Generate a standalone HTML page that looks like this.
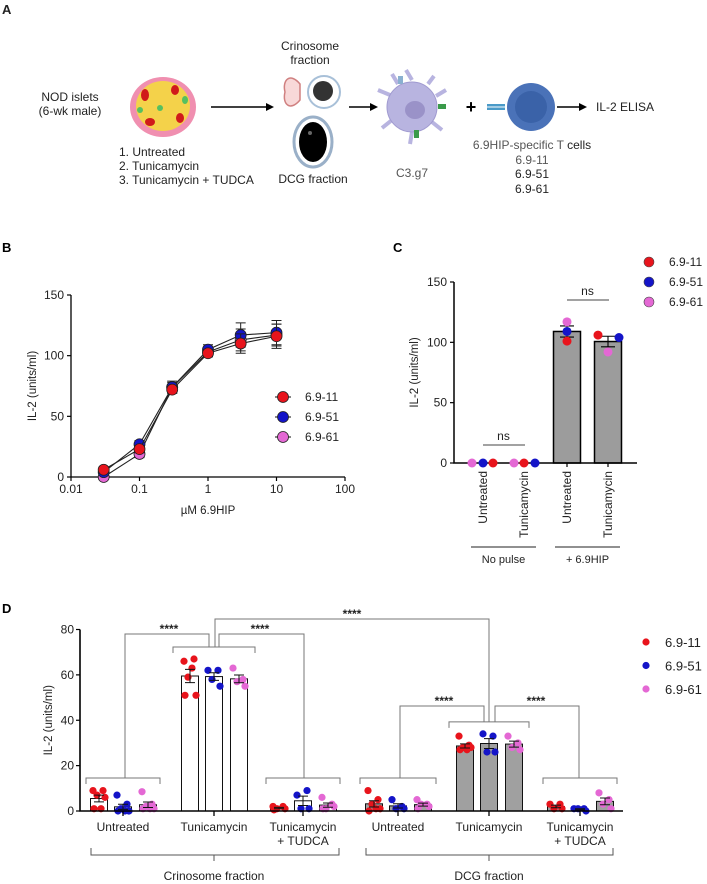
<!DOCTYPE html>
<html><head><meta charset="utf-8"><style>
html,body{margin:0;padding:0;background:#fff}
svg{display:block;font-family:"Liberation Sans",Arial,sans-serif}
</style></head><body>
<svg id="fig" width="707" height="884" viewBox="0 0 707 884" xmlns="http://www.w3.org/2000/svg">
<!-- Panel A -->
<g id="panelA" font-size="12" fill="#222">
  <text x="2" y="14" font-weight="bold" font-size="13">A</text>
  <text x="70" y="101" text-anchor="middle">NOD islets</text>
  <text x="70" y="115" text-anchor="middle">(6-wk male)</text>
  <g>
    <ellipse cx="163" cy="107" rx="33" ry="30" fill="#f08fb0"/>
    <ellipse cx="163" cy="106" rx="27" ry="25" fill="#f4d24a"/>
    <ellipse cx="145" cy="95" rx="4" ry="6" fill="#d01a1a"/>
    <ellipse cx="175" cy="90" rx="4" ry="5" fill="#d01a1a"/>
    <ellipse cx="150" cy="122" rx="5" ry="4" fill="#d01a1a"/>
    <ellipse cx="180" cy="118" rx="4" ry="5" fill="#d01a1a"/>
    <ellipse cx="160" cy="108" rx="3" ry="3" fill="#55c060"/>
    <ellipse cx="185" cy="100" rx="3" ry="4" fill="#55c060"/>
    <ellipse cx="140" cy="110" rx="3" ry="3" fill="#55c060"/>
  </g>
  <text x="119" y="156">1. Untreated</text>
  <text x="119" y="170">2. Tunicamycin</text>
  <text x="119" y="184">3. Tunicamycin + TUDCA</text>
  <g><line x1="211" y1="107" x2="270" y2="107" stroke="#000" stroke-width="1.5"/><path d="M274 107 L266 103 L266 111Z" fill="#000"/></g>
  <text x="310" y="50" text-anchor="middle">Crinosome</text>
  <text x="310" y="64" text-anchor="middle">fraction</text>
  <g>
    <path d="M300 84 C290 72 282 80 285 92 C282 104 290 112 300 100 Z" fill="#f8d8d8" stroke="#d08080" stroke-width="1.5"/>
    <circle cx="324" cy="92" r="16" fill="#fff" stroke="#a8c0d8" stroke-width="2"/>
    <circle cx="323" cy="91" r="10" fill="#333"/>
  </g>
  <g>
    <ellipse cx="313" cy="142" rx="19" ry="25" fill="#fff" stroke="#9ab0c8" stroke-width="3"/>
    <ellipse cx="313" cy="142" rx="14" ry="20" fill="#000"/>
    <ellipse cx="310" cy="133" rx="2" ry="2" fill="#666"/>
  </g>
  <text x="313" y="183" text-anchor="middle">DCG fraction</text>
  <g><line x1="349" y1="107" x2="374" y2="107" stroke="#000" stroke-width="1.5"/><path d="M378 107 L370 103 L370 111Z" fill="#000"/></g>
  <g fill="#b8b4e0" stroke="#a09ad0">
    <path d="M412 80 L406 70 M390 95 L378 90 M392 120 L382 128 M412 132 L410 144 M432 122 L442 130 M436 96 L446 90 M398 84 L392 74 M428 84 L434 76" stroke="#b8b4e0" stroke-width="4"/>
    <circle cx="412" cy="107" r="25"/>
    <ellipse cx="415" cy="110" rx="10" ry="9" fill="#9a92c8" stroke="none"/>
    <rect x="398" y="76" width="5" height="8" fill="#8ab0d0" stroke="none"/>
    <rect x="438" y="104" width="8" height="5" fill="#3a9a4a" stroke="none"/>
    <rect x="414" y="130" width="5" height="8" fill="#3a9a4a" stroke="none"/>
  </g>
  <text x="412" y="177" text-anchor="middle" fill="#555">C3.g7</text>
  <text x="471" y="113" text-anchor="middle" font-size="18" font-weight="bold" fill="#000">+</text>
  <g>
    <rect x="487" y="104" width="18" height="6" fill="#4a9ac8"/>
    <line x1="487" y1="107" x2="508" y2="107" stroke="#fff" stroke-width="1"/>
    <circle cx="531" cy="107" r="24" fill="#4a72b8"/>
    <circle cx="531" cy="107" r="16" fill="#3a62a8"/>
  </g>
  <g><line x1="557" y1="107" x2="583" y2="107" stroke="#000" stroke-width="1.5"/><path d="M587 107 L579 103 L579 111Z" fill="#000"/></g>
  <text x="596" y="111">IL-2 ELISA</text>
  <text x="532" y="149" text-anchor="middle" fill="#555">6.9HIP-specific T <tspan fill="#222">cells</tspan></text>
  <text x="532" y="164" text-anchor="middle" fill="#555">6.9-11</text>
  <text x="532" y="178" text-anchor="middle">6.9-51</text>
  <text x="532" y="193" text-anchor="middle">6.9-61</text>
</g>
<text x="2" y="252" font-weight="bold" font-size="13">B</text>
<text x="393" y="252" font-weight="bold" font-size="13">C</text>
<text x="2" y="613" font-weight="bold" font-size="13">D</text>
<g id="panelB"></g>
<g id="panelC"></g>
<g id="panelD"></g>
</svg>
<script>
// ---------- Panel B data ----------
const bDoses = [0.03, 0.1, 0.3, 1, 3, 10];
const bXTicks = [0.01, 0.1, 1, 10, 100];
const bXTickLabels = ["0.01", "0.1", "1", "10", "100"];
const bYTicks = [0, 50, 100, 150];
const b611 = [6, 23, 72, 102, 110, 116];
const b651 = [4, 27, 74, 105, 117, 119];
const b661 = [0, 19, 74, 103, 113, 117];
const b611Err = [2, 3, 3, 3, 8, 10];
const b651Err = [2, 3, 4, 4, 10, 10];
const b661Err = [1, 3, 5, 3, 9, 9];
const bSeriesNames = ["6.9-11", "6.9-51", "6.9-61"];
// ---------- Panel C data ----------
const cCategories = ["Untreated", "Tunicamycin", "Untreated", "Tunicamycin"];
const cGroupLabels = ["No pulse", "+ 6.9HIP"];
const cYTicks = [0, 50, 100, 150];
const c611 = [0, 0, 101, 106];
const c651 = [0, 0, 109, 104];
const c661 = [0, 0, 117, 92];
// ---------- Panel D data ----------
const dCategories = ["Untreated", "Tunicamycin", "Tunicamycin|+ TUDCA", "Untreated", "Tunicamycin", "Tunicamycin|+ TUDCA"];
const dFractions = ["Crinosome fraction", "DCG fraction"];
const dYTicks = [0, 20, 40, 60, 80];
const d611 = [[9,9,7,6,1,1],[66,67,59,51,51,63],[2,2,1,1,0.5],[9,5,3,1,0,1],[33,29,28,28,27,27],[3,3,1,1]];
const d651 = [[7,3,1,0,0,0],[62,62,58,55],[7,9,1,1],[5,2,1,1],[34,33,26,26],[1,1,1,0]];
const d661 = [[8.5,3,2,1,1,1],[63,58,57,55],[6,3,1,2,1],[5,3,3,2,1],[33,30,28,27],[8,5,3,1]];

const NS = "http://www.w3.org/2000/svg";
const COL = ["#e8141c", "#1414c8", "#e468d4"];
function mk(parent, tag, attrs, text) {
  const e = document.createElementNS(NS, tag);
  for (const k in attrs) e.setAttribute(k, attrs[k]);
  if (text !== undefined) e.textContent = text;
  parent.appendChild(e);
  return e;
}
function mean(a) { return a.reduce((s, v) => s + v, 0) / a.length; }
function sem(a) { const m = mean(a); const sd = Math.sqrt(a.reduce((s, v) => s + (v - m) * (v - m), 0) / (a.length - 1)); return sd / Math.sqrt(a.length); }

// ---------- Panel B ----------
(function () {
  const g = document.getElementById("panelB");
  const x0 = 71, xPerDecade = 68.5, y0 = 477, yPer = 182 / 150;
  const xB = v => x0 + (Math.log10(v) + 2) * xPerDecade;
  const yB = v => y0 - v * yPer;
  const ax = mk(g, "path", { d: `M${x0} ${yB(150)} L${x0} ${y0} L${xB(100)} ${y0}`, fill: "none", stroke: "#000", "stroke-width": 1.3 });
  
  
  bYTicks.forEach(t => {
    mk(g, "line", { x1: x0 - 4, x2: x0, y1: yB(t), y2: yB(t), stroke: "#000", "stroke-width": 1.2 });
    const tl = mk(g, "text", { x: x0 - 7, y: yB(t) + 4, "text-anchor": "end", "font-size": 12, fill: "#222" }, String(t));
    
    
  });
  bXTicks.forEach((t, i) => {
    mk(g, "line", { x1: xB(t), x2: xB(t), y1: y0, y2: y0 + 4, stroke: "#000", "stroke-width": 1.2 });
    const tl = mk(g, "text", { x: xB(t), y: y0 + 16, "text-anchor": "middle", "font-size": 12, fill: "#222" }, bXTickLabels[i]);
    
    
  });
  const xt = mk(g, "text", { x: 208, y: 514, "text-anchor": "middle", "font-size": 11.5, fill: "#222" }, "µM 6.9HIP");
  
  
  const yt = mk(g, "text", { x: 0, y: 0, transform: `translate(36 ${yB(75)}) rotate(-90)`, "text-anchor": "middle", "font-size": 11.5, fill: "#222" }, "IL-2 (units/ml)");
  
  
  const series = [b661, b651, b611], errs = [b661Err, b651Err, b611Err], cols = [COL[2], COL[1], COL[0]];
  series.forEach((s, si) => {
    const sg = mk(g, "g", {});
    
    
    mk(sg, "path", { d: s.map((v, i) => (i ? "L" : "M") + xB(bDoses[i]) + " " + yB(v)).join(" "), fill: "none", stroke: "#222", "stroke-width": 1.1 });
    s.forEach((v, i) => {
      const x = xB(bDoses[i]), e = errs[si][i];
      mk(sg, "path", { d: `M${x} ${yB(v - e)} L${x} ${yB(v + e)} M${x - 5} ${yB(v + e)} L${x + 5} ${yB(v + e)} M${x - 5} ${yB(v - e)} L${x + 5} ${yB(v - e)}`, stroke: "#222", "stroke-width": 1 });
      const c = mk(sg, "circle", { cx: x, cy: yB(v), r: 5.5, fill: cols[si], stroke: "#222", "stroke-width": 0.8 });
      
      
    });
  });
  bSeriesNames.forEach((n, i) => {
    const lg = mk(g, "g", {});
    
    
    const y = 397 + i * 20;
    mk(lg, "line", { x1: 275, x2: 291, y1: y, y2: y, stroke: "#222", "stroke-width": 1.1 });
    mk(lg, "circle", { cx: 283, cy: y, r: 5.5, fill: COL[i], stroke: "#222", "stroke-width": 0.8 });
    mk(lg, "text", { x: 305, y: y + 4, "font-size": 12, fill: "#222" }, n);
  });
})();

// ---------- Panel C ----------
(function () {
  const g = document.getElementById("panelC");
  const x0 = 454, xEnd = 637, y0 = 463, yPer = 181 / 150;
  const centers = [483, 524, 567, 608];
  const yC = v => y0 - v * yPer;
  const series = [c611, c651, c661];
  // bars
  cCategories.forEach((cat, i) => {
    const m = mean(series.map(s => s[i]));
    if (i >= 2) {
      const b = mk(g, "rect", { x: centers[i] - 13.5, y: yC(m), width: 27, height: y0 - yC(m), fill: "#9c9c9c", stroke: "#000", "stroke-width": 1.5 });
      
      
      const e = sem(series.map(s => s[i]));
      mk(g, "path", { d: `M${centers[i]} ${yC(m - e)} L${centers[i]} ${yC(m + e)} M${centers[i] - 7} ${yC(m + e)} L${centers[i] + 7} ${yC(m + e)} M${centers[i] - 7} ${yC(m - e)} L${centers[i] + 7} ${yC(m - e)}`, stroke: "#000", "stroke-width": 1.1 });
    }
  });
  const ax = mk(g, "path", { d: `M${x0} ${yC(150)} L${x0} ${y0} L${xEnd} ${y0}`, fill: "none", stroke: "#000", "stroke-width": 1.5 });
  
  
  cYTicks.forEach(t => {
    mk(g, "line", { x1: x0 - 4, x2: x0, y1: yC(t), y2: yC(t), stroke: "#000", "stroke-width": 1.2 });
    const tl = mk(g, "text", { x: x0 - 7, y: yC(t) + 4, "text-anchor": "end", "font-size": 12, fill: "#222" }, String(t));
    
    
  });
  const yt = mk(g, "text", { x: 0, y: 0, transform: `translate(418 ${yC(75)}) rotate(-90)`, "text-anchor": "middle", "font-size": 11.5, fill: "#222" }, "IL-2 (units/ml)");
  
  
  // point horizontal offsets (layout only)
  const offs = [[[10, 0, -11], [0, 11, -10], [0, 0, 0], [-10, 11, 0]]];
  cCategories.forEach((cat, i) => {
    mk(g, "line", { x1: centers[i], x2: centers[i], y1: y0, y2: y0 + 4, stroke: "#000", "stroke-width": 1.2 });
    const tl = mk(g, "text", { x: 0, y: 0, transform: `translate(${centers[i] + 4} ${y0 + 8}) rotate(-90)`, "text-anchor": "end", "font-size": 12, fill: "#222" }, cat);
    
    
    [2, 1, 0].forEach(si => {
      const p = mk(g, "circle", { cx: centers[i] + offs[0][i][si], cy: yC(series[si][i]), r: 4.5, fill: COL[si] });
      
      
    });
  });
  // ns brackets
  [[0, 1, 0], [2, 3, 1]].forEach(([a, b]) => {
    const top = Math.max(...series.map(s => Math.max(s[a], s[b])));
    const y = a === 0 ? 445 : 300;
    mk(g, "line", { x1: centers[a], x2: centers[b] + 1, y1: y, y2: y, stroke: "#444", "stroke-width": 1 });
    const t = mk(g, "text", { x: (centers[a] + centers[b]) / 2, y: y - 5, "text-anchor": "middle", "font-size": 12, fill: "#222" }, "ns");
    
    
  });
  cGroupLabels.forEach((lab, i) => {
    const a = centers[i * 2] - 12, b = centers[i * 2 + 1] + 12;
    mk(g, "line", { x1: a, x2: b, y1: 547, y2: 547, stroke: "#222", "stroke-width": 1 });
    const t = mk(g, "text", { x: (a + b) / 2, y: 563, "text-anchor": "middle", "font-size": 11, fill: "#222" }, lab);
    
    
  });
  bSeriesNames.forEach((n, i) => {
    const lg = mk(g, "g", {});
    
    
    const y = 262 + i * 20;
    mk(lg, "circle", { cx: 649, cy: y, r: 5, fill: COL[i], stroke: "#444", "stroke-width": 0.6 });
    mk(lg, "text", { x: 669, y: y + 4, "font-size": 12, fill: "#222" }, n);
  });
})();

// ---------- Panel D ----------
(function () {
  const g = document.getElementById("panelD");
  const x0 = 80, xEnd = 623, y0 = 811, yPer = 181.5 / 80;
  const yD = v => y0 - v * yPer;
  const centers = [123, 214, 303, 398, 489, 580];
  const barOff = [-24, 0, 25], bw = 17;
  const series = [d611, d651, d661];
  const jit = [-6, 4, -2, 6, -5, 2, 0, -3];
  dCategories.forEach((cat, i) => {
    series.forEach((s, si) => {
      const vals = s[i], m = mean(vals), e = sem(vals), cx = centers[i] + barOff[si];
      const b = mk(g, "rect", { x: cx - bw / 2, y: yD(m), width: bw, height: y0 - yD(m), fill: i >= 3 ? "#a0a0a0" : "#fff", stroke: "#111", "stroke-width": 1 });
      
      
      vals.forEach((v, k) => {
        const p = mk(g, "circle", { cx: cx + jit[k % jit.length], cy: yD(v), r: 3.6, fill: COL[si] });
        
        
      });
      mk(g, "path", { d: `M${cx} ${yD(m - e)} L${cx} ${yD(m + e)} M${cx - 5} ${yD(m + e)} L${cx + 5} ${yD(m + e)} M${cx - 5} ${yD(m - e)} L${cx + 5} ${yD(m - e)}`, stroke: "#111", "stroke-width": 1 });
    });
    mk(g, "line", { x1: centers[i], x2: centers[i], y1: y0, y2: y0 + 5, stroke: "#000", "stroke-width": 1.3 });
    const parts = cat.split("|");
    parts.forEach((p, k) => {
      const t = mk(g, "text", { x: centers[i], y: y0 + 20 + k * 14, "text-anchor": "middle", "font-size": 12, fill: "#222" }, p);
      
      
    });
  });
  const ax = mk(g, "path", { d: `M${x0} ${yD(80)} L${x0} ${y0} L${xEnd} ${y0}`, fill: "none", stroke: "#000", "stroke-width": 1.6 });
  
  
  dYTicks.forEach(t => {
    mk(g, "line", { x1: x0 - 4, x2: x0, y1: yD(t), y2: yD(t), stroke: "#000", "stroke-width": 1.2 });
    const tl = mk(g, "text", { x: x0 - 6, y: yD(t) + 4, "text-anchor": "end", "font-size": 12, fill: "#222" }, String(t));
    
    
  });
  const yt = mk(g, "text", { x: 0, y: 0, transform: `translate(52 ${yD(40)}) rotate(-90)`, "text-anchor": "middle", "font-size": 11.5, fill: "#222" }, "IL-2 (units/ml)");
  
  
  // group caps
  const capHalf = [37, 41, 37, 38, 40, 37];
  const capY = [], st = { stroke: "#777", "stroke-width": 1, fill: "none" };
  dCategories.forEach((c, i) => {
    const top = Math.max(...series.map(s => Math.max(...s[i])));
    const y = Math.min(yD(top) - 12, 778);
    capY.push(y);
    mk(g, "path", Object.assign({ d: `M${centers[i] - capHalf[i]} ${y + 6} L${centers[i] - capHalf[i]} ${y} L${centers[i] + capHalf[i]} ${y} L${centers[i] + capHalf[i]} ${y + 6}` }, st));
  });
  function bracket(a, b, ya, yb, y, starX) {
    mk(g, "path", Object.assign({ d: `M${a} ${ya} L${a} ${y} L${b} ${y} L${b} ${yb}` }, st));
    const t = mk(g, "text", { x: starX, y: y - 1, "text-anchor": "middle", "font-size": 12, "font-weight": "bold", fill: "#222" }, "****");
    
    
  }
  bracket(125, 209, capY[0], capY[1], 634, 169);
  bracket(219, 304, capY[1], capY[2], 634, 260);
  bracket(215, 489, capY[1], capY[4], 619, 352);
  bracket(400, 484, capY[3], capY[4], 706, 444);
  bracket(495, 579, capY[4], capY[5], 706, 536);
  dFractions.forEach((f, i) => {
    const a = i ? 366 : 91, b = i ? 613 : 339, c = centers[i * 3 + 1];
    mk(g, "path", { d: `M${a} 848 L${a} 855 L${b} 855 L${b} 848 M${c} 855 L${c} 861`, stroke: "#555", "stroke-width": 1, fill: "none" });
    const t = mk(g, "text", { x: c, y: 880, "text-anchor": "middle", "font-size": 12, fill: "#222" }, f);
    
    
  });
  bSeriesNames.forEach((n, i) => {
    const lg = mk(g, "g", {});
    
    
    const y = 642 + i * 23.5;
    mk(lg, "circle", { cx: 646, cy: y, r: 3.6, fill: COL[i] });
    mk(lg, "text", { x: 665, y: y + 5, "font-size": 13, fill: "#222" }, n);
  });
})();
</script>
</body></html>
